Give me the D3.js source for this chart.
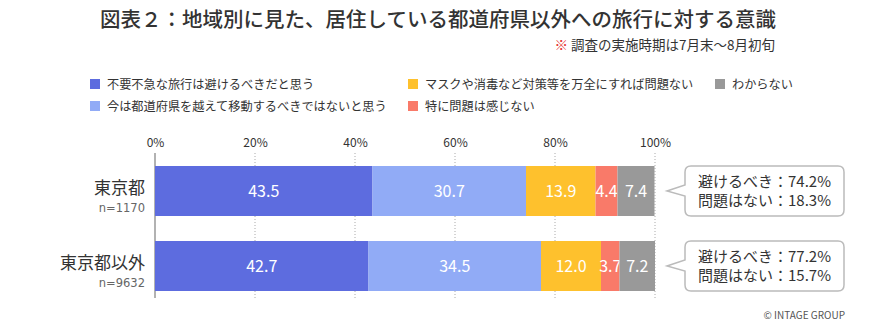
<!DOCTYPE html>
<html><head><meta charset="utf-8">
<script src="https://cdn.jsdelivr.net/npm/d3@7"></script>
<style>body{margin:0;background:#fff;}svg{display:block;font-family:"Noto Sans CJK JP","Noto Sans",sans-serif;}</style>
</head><body>
<script>
const categories = ["東京都", "東京都以外"];
const sampleSizes = ["n=1170", "n=9632"];
const seriesNames = ["不要不急な旅行は避けるべきだと思う", "今は都道府県を越えて移動するべきではないと思う", "マスクや消毒など対策等を万全にすれば問題ない", "特に問題は感じない", "わからない"];
const seriesColors = ["#5D6CDF", "#91ABF6", "#FEC12D", "#F97A69", "#999999"];
const tokyoValues = [43.5, 30.7, 13.9, 4.4, 7.4];
const otherValues = [42.7, 34.5, 12.0, 3.7, 7.2];
const avoidTotals = ["74.2%", "77.2%"];
const okTotals = ["18.3%", "15.7%"];
const tickValues = [0, 20, 40, 60, 80, 100];

const W = 880, H = 326;
const svg = d3.select("body").append("svg").attr("width", W).attr("height", H);

// Title
svg.append("text").attr("x", 438).attr("y", 27).attr("text-anchor", "middle")
  .attr("font-size", 20.5).attr("fill", "#333").attr("font-weight", 500)
  .text("図表２：地域別に見た、居住している都道府県以外への旅行に対する意識");
const sub = svg.append("text").attr("x", 775).attr("y", 50).attr("text-anchor", "end")
  .attr("font-size", 13.5).attr("fill", "#333");
sub.append("tspan").attr("fill", "#e53030").text("※ ");
sub.append("tspan").text("調査の実施時期は7月末～8月初旬");

// Legend
const legendPos = [[90, 84], [90, 106], [408, 84], [408, 106], [715, 84]];
const lg = svg.append("g");
seriesNames.forEach((n, i) => {
  const [lx, ly] = legendPos[i];
  lg.append("rect").attr("x", lx).attr("y", ly - 5).attr("width", 10).attr("height", 10).attr("fill", seriesColors[i]);
  lg.append("text").attr("x", lx + 17).attr("y", ly + 4.5).attr("font-size", 12.2).attr("fill", "#333").text(n);
});

// Scales
const x = d3.scaleLinear().domain([0, 100]).range([155, 655]);
const y = d3.scaleBand().domain(categories).range([153.5, 303.5]).paddingInner(1 / 3).paddingOuter(1 / 6);

// Grid
svg.append("g").selectAll("line").data(tickValues.slice(1)).join("line")
  .attr("x1", d => x(d)).attr("x2", d => x(d)).attr("y1", 153).attr("y2", 298)
  .attr("stroke", "#aaa").attr("stroke-dasharray", "1,2");
svg.append("line").attr("x1", x(0)).attr("x2", x(0)).attr("y1", 153).attr("y2", 298).attr("stroke", "#999").attr("stroke-width", 1.5);

// Axis labels
const axis = d3.axisTop(x).tickValues(tickValues).tickFormat(d => d + "%").tickSize(0);
const ag = svg.append("g").attr("transform", "translate(0,150)").call(axis);
ag.select(".domain").remove();
ag.selectAll("text").attr("font-size", 12).attr("fill", "#333").attr("font-family", "'Noto Sans CJK JP',sans-serif");

// Bars
const data = [tokyoValues, otherValues];
data.forEach((vals, r) => {
  let cum = 0;
  const cat = categories[r];
  const g = svg.append("g");
  vals.forEach((v, i) => {
    const x0 = x(cum), x1 = x(Math.min(cum + v, 100));
    g.append("rect").attr("x", x0).attr("y", y(cat)).attr("width", x1 - x0).attr("height", y.bandwidth()).attr("fill", seriesColors[i]);
    g.append("text").attr("x", (x0 + x1) / 2).attr("y", y(cat) + y.bandwidth() / 2 + 6)
      .attr("text-anchor", "middle").attr("font-size", 16).attr("fill", "#fff").text(v.toFixed(1));
    cum += v;
  });
  // Category labels
  const cy = y(cat) + y.bandwidth() / 2;
  svg.append("text").attr("x", 145).attr("y", cy + 3).attr("text-anchor", "end")
    .attr("font-size", 17).attr("fill", "#333").text(cat);
  svg.append("text").attr("x", 145).attr("y", cy + 21).attr("text-anchor", "end")
    .attr("font-size", 11.5).attr("fill", "#666").attr("font-family", "'DejaVu Sans',sans-serif").text(sampleSizes[r]);

  // Callout
  const top = y(cat), bx = 685, bw = 159, bh = y.bandwidth(), rr = 6;
  const path = `M${bx + rr},${top} H${bx + bw - rr} Q${bx + bw},${top} ${bx + bw},${top + rr} V${top + bh - rr} Q${bx + bw},${top + bh} ${bx + bw - rr},${top + bh} H${bx + rr} Q${bx},${top + bh} ${bx},${top + bh - rr} V${cy + 5} L${bx - 18},${cy} L${bx},${cy - 6} V${top + rr} Q${bx},${top} ${bx + rr},${top} Z`;
  svg.append("path").attr("d", path).attr("fill", "#fff").attr("stroke", "#bbb").attr("stroke-width", 1.5);
  svg.append("text").attr("x", 698).attr("y", top + 21).attr("font-size", 15).attr("fill", "#333").text("避けるべき：" + avoidTotals[r]);
  svg.append("text").attr("x", 698).attr("y", top + 40).attr("font-size", 15).attr("fill", "#333").text("問題はない：" + okTotals[r]);
});

svg.append("text").attr("x", 845).attr("y", 319).attr("text-anchor", "end").attr("font-size", 10).attr("fill", "#555").text("© INTAGE GROUP");
</script>
</body></html>
